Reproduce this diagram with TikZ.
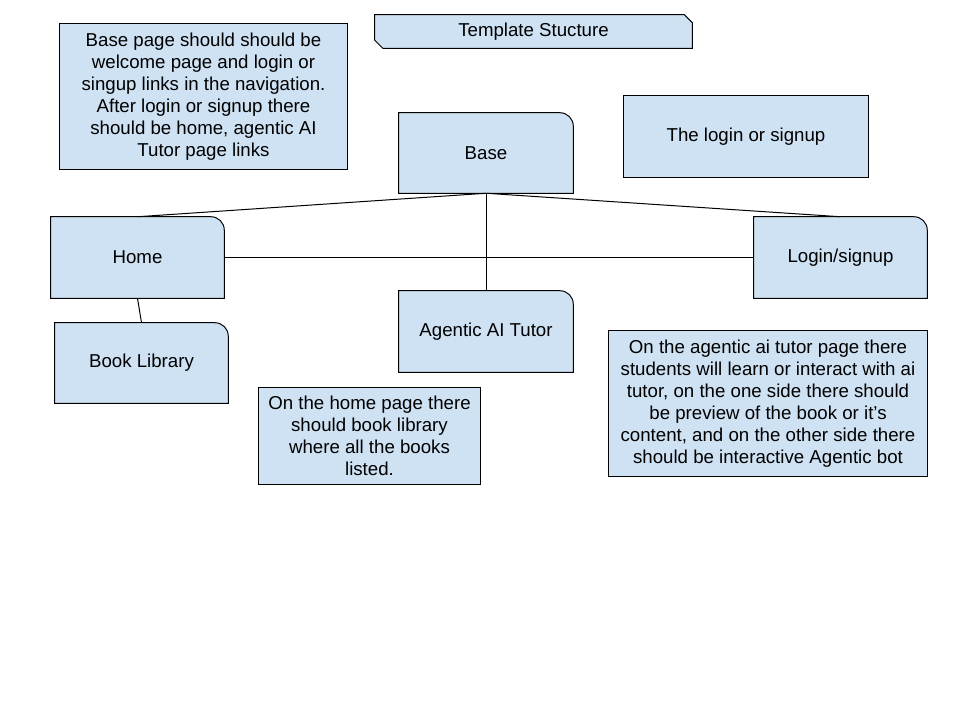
\documentclass[tikz,border=0pt]{standalone}
\usepackage{fontspec}
\setmainfont{Liberation Sans}
\usetikzlibrary{backgrounds}
\definecolor{boxblue}{HTML}{CFE2F3}

\tikzset{
  pagebox/.style={inner sep=0pt, align=center, font=\fontsize{14}{16.5}\selectfont},
  boxsize/.style 2 args={minimum width=#1*0.75pt, minimum height=#2*0.75pt},
  boxfill/.style={fill=boxblue, draw=black, line width=0.75pt},
  link/.style={draw=black, line width=0.75pt},
}

% box with a rounded top right corner
\newcommand{\tabshape}[1]{%
  \draw[boxfill] (#1.south west) -- (#1.north west) [rounded corners=10pt] -- (#1.north east) [sharp corners] -- (#1.south east) -- cycle;}
% plain box
\newcommand{\plainshape}[1]{%
  \draw[boxfill] (#1.south west) rectangle (#1.north east);}

\begin{document}
\begin{tikzpicture}[x=0.75pt, y=-0.75pt]

\useasboundingbox (0,0) rectangle (960,720);

% title and notes
\node[pagebox, boxsize={317}{33}] (title) at (533.5,31.5) {Template Stucture};
\node[pagebox, boxsize={287}{145}] (basenote) at (203.5,96.5) {Base page should should be\\ welcome page and login or\\ singup links in the navigation.\\ After login or signup there\\ should be home, agentic AI\\ Tutor page links};
\node[pagebox, boxsize={244}{81}] (loginnote) at (746,136.5) {The login or signup};
\node[pagebox, boxsize={221}{96}] (homenote) at (369.5,436) {On the home page there\\ should book library\\ where all the books\\ listed.};
\node[pagebox, boxsize={318}{145}] (tutornote) at (768,403.5) {On the agentic ai tutor page there\\ students will learn or interact with ai\\ tutor, on the one side there should\\ be preview of the book or it’s\\ content, and on the other side there\\ should be interactive Agentic bot};

% pages
\node[pagebox, boxsize={174}{80}] (base) at (486,153) {Base};
\node[pagebox, boxsize={173}{81}] (home) at (137.5,257.5) {Home};
\node[pagebox, boxsize={173}{80}] (library) at (141.5,363) {Book Library};
\node[pagebox, boxsize={174}{81}] (tutor) at (486,331.5) {Agentic AI Tutor};
\node[pagebox, boxsize={173}{81}] (login) at (840.5,257.5) {Login/signup};

\begin{pgfonlayer}{background}
\fill[white] (0,0) rectangle (960,720);
\draw[boxfill] (title.north west) -- ([xshift=-6pt]title.north east) -- ([yshift=-6pt]title.north east) -- (title.south east) -- ([xshift=6pt]title.south west) -- ([yshift=6pt]title.south west) -- cycle;
\plainshape{basenote}
\plainshape{loginnote}
\plainshape{homenote}
\plainshape{tutornote}
\tabshape{base}
\tabshape{home}
\tabshape{library}
\tabshape{tutor}
\tabshape{login}
\end{pgfonlayer}

% links
\draw[link] (base.south) -- (home.north);
\draw[link] (base.south) -- (login.north);
\draw[link] (base.south) -- (tutor.north);
\draw[link] (home.east) -- (login.west);
\draw[link] (home.south) -- (library.north);

\end{tikzpicture}
\end{document}
